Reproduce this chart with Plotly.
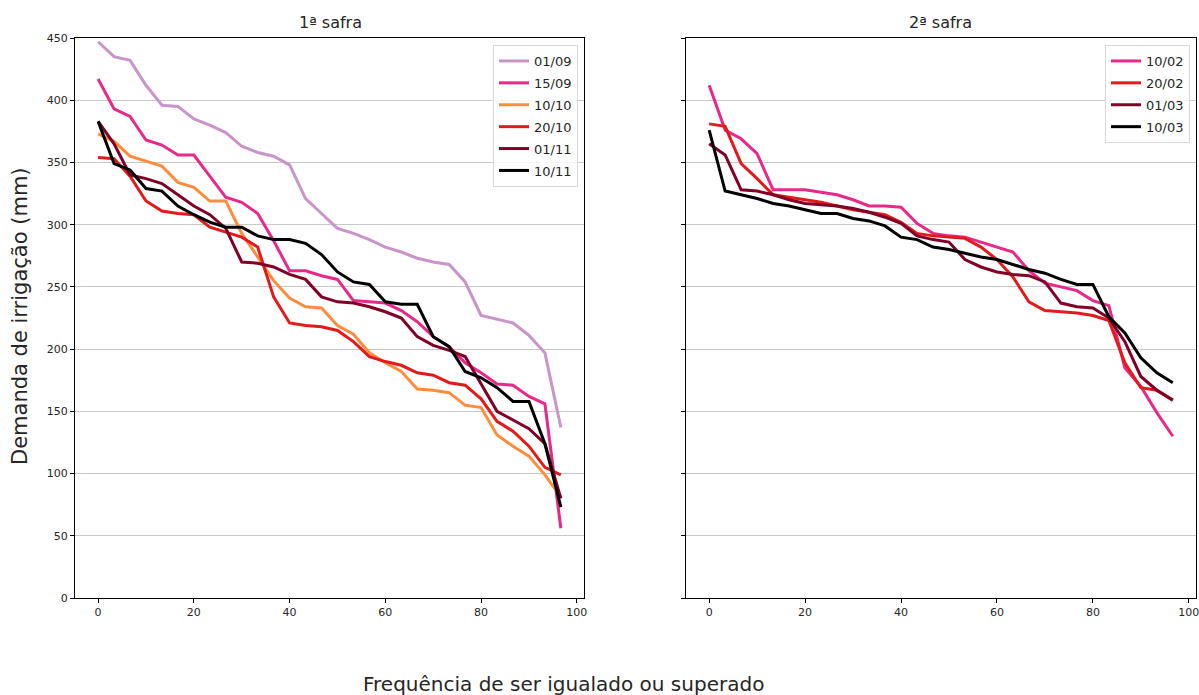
import plotly.graph_objects as go

# x positions: frequency of being equalled or exceeded (%)
freq = [i * 100 / 30 for i in range(30)]

# 1ª safra
s1_labels = ["01/09", "15/09", "10/10", "20/10", "01/11", "10/11"]
s1_0109 = [447, 435, 432, 412, 396, 395, 385, 380, 374, 363, 358, 355, 348, 321, 309,
           297, 293, 288, 282, 278, 273, 270, 268, 254, 227, 224, 221, 211, 197, 137]
s1_1509 = [417, 393, 387, 368, 364, 356, 356, 339, 322, 318, 309, 287, 263, 263, 259,
           256, 239, 238, 237, 231, 222, 210, 202, 189, 181, 172, 171, 162, 156, 56]
s1_1010 = [373, 367, 355, 351, 347, 334, 330, 319, 319, 293, 274, 255, 241, 234, 233,
           219, 212, 197, 189, 182, 168, 167, 165, 155, 153, 131, 122, 114, 99, 81]
s1_2010 = [354, 353, 339, 319, 311, 309, 308, 298, 294, 290, 282, 242, 221, 219, 218,
           215, 206, 194, 190, 187, 181, 179, 173, 171, 160, 142, 134, 122, 105, 99]
s1_0111 = [383, 365, 340, 337, 333, 324, 315, 308, 297, 270, 269, 266, 260, 256, 242,
           238, 237, 234, 230, 225, 210, 203, 199, 194, 172, 150, 143, 136, 124, 80]
s1_1011 = [383, 349, 344, 329, 327, 315, 308, 302, 298, 298, 291, 288, 288, 285, 276,
           262, 254, 252, 238, 236, 236, 210, 202, 182, 177, 169, 158, 158, 124, 73]

# 2ª safra
s2_labels = ["10/02", "20/02", "01/03", "10/03"]
s2_1002 = [412, 376, 369, 357, 328, 328, 328, 326, 324, 320, 315, 315, 314, 301, 293,
           291, 290, 286, 282, 278, 263, 253, 250, 247, 239, 235, 185, 170, 149, 130]
s2_2002 = [381, 379, 349, 337, 324, 322, 320, 318, 315, 312, 310, 308, 302, 293, 291,
           290, 289, 282, 272, 258, 238, 231, 230, 229, 227, 223, 189, 169, 167, 159]
s2_0103 = [365, 356, 328, 327, 324, 320, 317, 316, 315, 313, 310, 306, 301, 291, 288,
           286, 272, 266, 262, 260, 259, 254, 237, 234, 233, 225, 206, 178, 167, 159]
s2_1003 = [376, 327, 324, 321, 317, 315, 312, 309, 309, 305, 303, 299, 290, 288, 282,
           280, 277, 274, 272, 268, 264, 261, 256, 252, 252, 226, 213, 193, 181, 173]

y_ticks = list(range(0, 451, 50))
x_ticks = list(range(0, 101, 20))

s1_series = [s1_0109, s1_1509, s1_1010, s1_2010, s1_0111, s1_1011]
s1_colors = ["#c994c7", "#e7298a", "#fd8d3c", "#e31a1c", "#800026", "#000000"]
s2_series = [s2_1002, s2_2002, s2_0103, s2_1003]
s2_colors = ["#e7298a", "#e31a1c", "#800026", "#000000"]

W, H = 1199, 695
FONT = "DejaVu Sans"

fig = go.Figure()
for lab, ys, c in zip(s1_labels, s1_series, s1_colors):
    fig.add_trace(go.Scatter(x=freq, y=ys, name=lab, mode="lines",
                             line=dict(color=c, width=3), xaxis="x", yaxis="y",
                             legend="legend", legendgroup="a" + lab))
for lab, ys, c in zip(s2_labels, s2_series, s2_colors):
    fig.add_trace(go.Scatter(x=freq, y=ys, name=lab, mode="lines",
                             line=dict(color=c, width=3), xaxis="x2", yaxis="y2",
                             legend="legend2", legendgroup="b" + lab))

def px_x(p):
    return p / W

def px_y(p):
    return 1 - p / H

axis_common = dict(showline=True, mirror=True, linecolor="black", linewidth=1,
                   ticks="outside", ticklen=4, tickcolor="black", zeroline=False,
                   automargin=False, ticklabeloverflow="allow")
tick_font = dict(family=FONT, size=11, color="#262626")

legend_common = dict(xanchor="right", yanchor="top",
                     bgcolor="rgba(255,255,255,0.8)", bordercolor="#d9d9d9",
                     borderwidth=1, font=dict(family=FONT, size=13, color="#262626"),
                     tracegroupgap=2)

fig.update_layout(
    template="none",
    width=W, height=H,
    margin=dict(l=0, r=0, t=0, b=0, autoexpand=False),
    paper_bgcolor="white", plot_bgcolor="white",
    font=dict(family=FONT, color="#262626"),
    xaxis=dict(domain=[px_x(75), px_x(584)], range=[-4.83, 101.5], tickfont=tick_font,
               tickvals=x_ticks, showgrid=False, anchor="y", **axis_common),
    yaxis=dict(domain=[px_y(598), px_y(38)], range=[0, 450], tickvals=y_ticks,
               tickfont=tick_font, showgrid=True, gridcolor="#c8c8c8", gridwidth=1,
               anchor="x", **axis_common),
    xaxis2=dict(domain=[px_x(686), px_x(1196)], range=[-4.83, 101.5],
                tickfont=tick_font, tickvals=x_ticks, showgrid=False, anchor="y2",
                **axis_common),
    yaxis2=dict(domain=[px_y(598), px_y(38)], range=[0, 450], tickvals=y_ticks,
                tickfont=tick_font, showgrid=True, gridcolor="#c8c8c8", gridwidth=1,
                anchor="x2", showticklabels=False, matches="y", **axis_common),
    legend=dict(x=px_x(578), y=px_y(45), **legend_common),
    legend2=dict(x=px_x(1190), y=px_y(45), **legend_common),
    annotations=[
        dict(text="1ª safra", x=px_x(330), y=px_y(23), xref="paper", yref="paper",
             xanchor="center", yanchor="middle", showarrow=False,
             font=dict(family=FONT, size=16, color="#262626")),
        dict(text="2ª safra", x=px_x(941), y=px_y(23), xref="paper", yref="paper",
             xanchor="center", yanchor="middle", showarrow=False,
             font=dict(family=FONT, size=16, color="#262626")),
        dict(text="Demanda de irrigação (mm)", x=px_x(20), y=px_y(316), xref="paper",
             yref="paper", xanchor="center", yanchor="middle", showarrow=False,
             textangle=-90, font=dict(family=FONT, size=21, color="#262626")),
        dict(text="Frequência de ser igualado ou superado", x=px_x(563), y=px_y(684),
             xref="paper", yref="paper", xanchor="center", yanchor="middle",
             showarrow=False, font=dict(family=FONT, size=20, color="#262626")),
    ],
)

# keep the page free of margins and scrollbars so the right edge is not covered
fig.write_html(
    "out.html",
    post_script="document.body.style.margin='0';document.body.style.overflow='hidden';"
                "document.documentElement.style.overflow='hidden';",
)
